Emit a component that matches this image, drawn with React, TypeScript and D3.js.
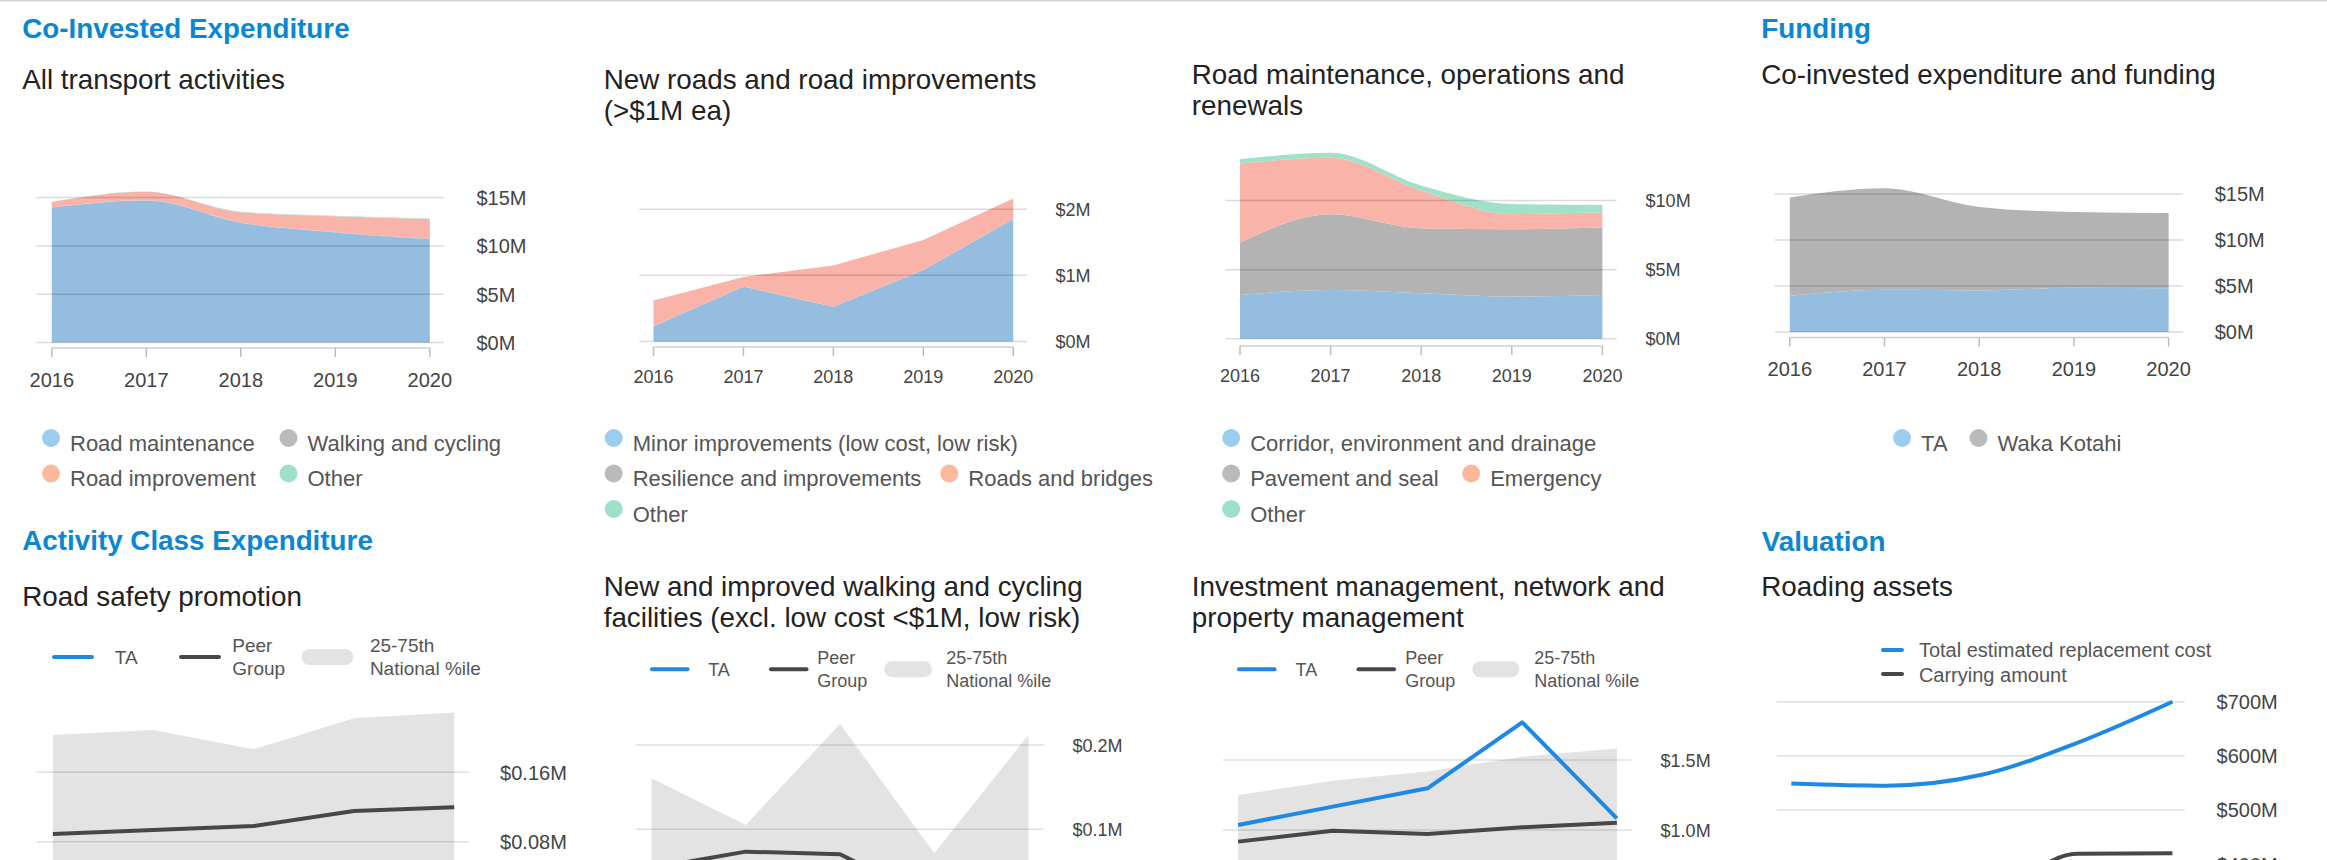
import React from "react";
import * as d3 from "d3";

// ---------- DATA ----------
const years = ["2016", "2017", "2018", "2019", "2020"];

// Co-Invested Expenditure: All transport activities ($M)
const roadMaintenance = [13.98, 14.7, 12.4, 11.4, 10.7];
const walkingCycling = [0.02, 0.02, 0.03, 0.03, 0.03];
const roadImprovement = [0.55, 0.88, 1.05, 1.65, 2.05];
const otherTransport = [0.02, 0.02, 0.05, 0.05, 0.05];

// New roads and road improvements ($M)
const minorImprovements = [0.23, 0.83, 0.525, 1.08, 1.85];
const resilienceImprovements = [0, 0, 0, 0, 0];
const roadsBridges = [0.39, 0.145, 0.625, 0.455, 0.31];
const otherNewRoads = [0, 0, 0, 0, 0];

// Road maintenance, operations and renewals ($M)
const corridorDrainage = [3.17, 3.53, 3.29, 3.05, 3.17];
const pavementSeal = [3.78, 5.49, 4.71, 4.87, 4.88];
const emergencyWorks = [5.73, 4.08, 2.73, 1.1, 1.1];
const otherMaintenance = [0.31, 0.36, 0.36, 0.73, 0.53];

// Funding ($M)
const taFunding = [3.94, 4.6, 4.52, 4.8, 4.75];
const wakaKotahiFunding = [10.69, 11.02, 9.08, 8.25, 8.19];

// Road safety promotion ($M)
const safetyTA = [0.03, 0.04, 0.03, 0.05, 0.04];
const safetyPeer = [0.0888, 0.0935, 0.098, 0.1154, 0.1196];
const safetyBandLow = [0.03, 0.03, 0.03, 0.03, 0.03];
const safetyBandHigh = [0.2031, 0.2088, 0.1865, 0.2223, 0.2288];

// New and improved walking and cycling facilities ($M)
const walkTA = [0, 0, 0, 0, 0];
const walkPeer = [0.054, 0.0735, 0.0704, 0.015, 0.04];
const walkBandLow = [0, 0, 0, 0, 0];
const walkBandHigh = [0.1606, 0.1052, 0.225, 0.0716, 0.212];

// Investment management, network and property management ($M)
const investTA = [1.036, 1.167, 1.298, 1.769, 1.083];
const investPeer = [0.917, 0.995, 0.971, 1.019, 1.052];
const investBandLow = [0.6, 0.62, 0.65, 0.68, 0.7];
const investBandHigh = [1.25, 1.352, 1.417, 1.524, 1.583];

// Roading assets ($M)
const replacementCost = [549, 545, 565, 624, 700];
const carryingAmount = [330, 335, 342, 419, 420];

// Tick values
const ticksTransport = [0, 5, 10, 15];
const ticksNewRoads = [0, 1, 2];
const ticksMaintenance = [0, 5, 10];
const ticksFunding = [0, 5, 10, 15];
const ticksSafety = [0.08, 0.16];
const ticksWalk = [0.1, 0.2];
const ticksInvest = [1.0, 1.5];
const ticksAssets = [400, 500, 600, 700];

// ---------- STYLE ----------
const FONT = "'Liberation Sans', Arial, Helvetica, sans-serif";
const TITLE_BLUE = "#0a87d0";
const SUB = "#222222";
const LEG = "#555555";
const AXIS_TXT = "#444444";
const C = {
  blueA: "#94bde0",
  greyA: "#b3b3b3",
  salmonA: "#f9b3a9",
  tealA: "#a0e1ca",
  blueL: "#9ccdee",
  greyL: "#bababa",
  salmonL: "#fcb89b",
  tealL: "#9edfcb",
  ta: "#1e88e5",
  peer: "#474747",
  band: "#e3e3e3",
};

type Series = { name: string; values: number[]; fill: string };
type Leg = { label: string; color: string; cx: number; row: number };

type AreaCfg = {
  series: Series[];
  x0: number; x1: number;
  yDomain: [number, number]; yRange: [number, number];
  ticks: number[]; fmt: (v: number) => string;
  gx0: number; gx1: number; lx: number;
  axisY: number; yearY: number; font: number;
  curve: any;
  legend: Leg[];
};

const LEG_BASE = [450.5, 486, 521.5];

function AreaPanel({ c }: { c: AreaCfg }) {
  const x = d3.scalePoint<string>().domain(years).range([c.x0, c.x1]);
  const y = d3.scaleLinear().domain(c.yDomain).range(c.yRange);
  const rows = years.map((yr, i) => {
    const r: any = { year: yr };
    c.series.forEach((s) => (r[s.name] = s.values[i]));
    return r;
  });
  const stacked = d3.stack<any>().keys(c.series.map((s) => s.name))(rows);
  const area = d3
    .area<any>()
    .x((d) => x(d.data.year) as number)
    .y0((d) => y(d[0]))
    .y1((d) => y(d[1]))
    .curve(c.curve);
  return (
    <g fontFamily={FONT}>
      {stacked.map((layer, i) => (
        <path key={i} d={area(layer as any) || ""} fill={c.series[i].fill} />
      ))}
      {c.ticks.map((t) => (
        <g key={t}>
          <line x1={c.gx0} x2={c.gx1} y1={y(t)} y2={y(t)} stroke="#000" strokeOpacity={0.14} strokeWidth={1.5} />
          <text x={c.lx} y={y(t) + c.font * 0.37} fontSize={c.font} fill={AXIS_TXT}>
            {c.fmt(t)}
          </text>
        </g>
      ))}
      <line x1={c.x0} x2={c.x1} y1={c.axisY} y2={c.axisY} stroke="#cfcfcf" strokeWidth={1.5} />
      {years.map((yr) => (
        <g key={yr}>
          <line x1={x(yr)} x2={x(yr)} y1={c.axisY} y2={c.axisY + 9} stroke="#bdbdbd" strokeWidth={1.5} />
          <text x={x(yr)} y={c.yearY} fontSize={c.font} fill={AXIS_TXT} textAnchor="middle">
            {yr}
          </text>
        </g>
      ))}
      {c.legend.map((l) => (
        <g key={l.label}>
          <circle cx={l.cx} cy={LEG_BASE[l.row] - 12.5} r={9} fill={l.color} />
          <text x={l.cx + 19} y={LEG_BASE[l.row]} fontSize={22} fill={LEG}>
            {l.label}
          </text>
        </g>
      ))}
    </g>
  );
}

type LineCfg = {
  ta: number[]; peer: number[]; low: number[]; high: number[];
  x0: number; x1: number;
  yDomain: [number, number]; yRange: [number, number];
  ticks: number[]; fmt: (v: number) => string;
  gx0: number; gx1: number; lx: number; font: number;
  leg: { taX: number; peerX: number; pillX: number; lineY: number; taTx: number; peerTx: number; bandTx: number; taTy: number; l1: number; l2: number; font: number; lineLen: number; pillW: number };
};

function BandPanel({ c }: { c: LineCfg }) {
  const x = d3.scalePoint<string>().domain(years).range([c.x0, c.x1]);
  const y = d3.scaleLinear().domain(c.yDomain).range(c.yRange);
  const band = d3
    .area<number>()
    .x((_, i) => x(years[i]) as number)
    .y0((_, i) => y(c.low[i]))
    .y1((d) => y(d));
  const line = d3
    .line<number>()
    .x((_, i) => x(years[i]) as number)
    .y((d) => y(d));
  const L = c.leg;
  return (
    <g fontFamily={FONT}>
      <path d={band(c.high) || ""} fill={C.band} />
      {c.ticks.map((t) => (
        <g key={t}>
          <line x1={c.gx0} x2={c.gx1} y1={y(t)} y2={y(t)} stroke="#000" strokeOpacity={0.12} strokeWidth={1.5} />
          <text x={c.lx} y={y(t) + c.font * 0.37} fontSize={c.font} fill={AXIS_TXT}>
            {c.fmt(t)}
          </text>
        </g>
      ))}
      <path d={line(c.peer) || ""} fill="none" stroke={C.peer} strokeWidth={4} strokeLinejoin="round" />
      <path d={line(c.ta) || ""} fill="none" stroke={C.ta} strokeWidth={4} strokeLinejoin="round" />
      {/* legend */}
      <line x1={L.taX} x2={L.taX + L.lineLen} y1={L.lineY} y2={L.lineY} stroke={C.ta} strokeWidth={4} strokeLinecap="round" />
      <text x={L.taTx} y={L.taTy} fontSize={L.font} fill={LEG}>TA</text>
      <line x1={L.peerX} x2={L.peerX + L.lineLen} y1={L.lineY} y2={L.lineY} stroke={C.peer} strokeWidth={4} strokeLinecap="round" />
      <text x={L.peerTx} y={L.l1} fontSize={L.font} fill={LEG}>Peer</text>
      <text x={L.peerTx} y={L.l2} fontSize={L.font} fill={LEG}>Group</text>
      <rect x={L.pillX} y={L.lineY - 8} width={L.pillW} height={16} rx={8} fill={C.band} />
      <text x={L.bandTx} y={L.l1} fontSize={L.font} fill={LEG}>25-75th</text>
      <text x={L.bandTx} y={L.l2} fontSize={L.font} fill={LEG}>National %ile</text>
    </g>
  );
}

function AssetsPanel() {
  const x = d3.scalePoint<string>().domain(years).range([1791.3, 2172.4]);
  const y = d3.scaleLinear().domain([500, 700]).range([810, 701.7]);
  const line = d3
    .line<number>()
    .x((_, i) => x(years[i]) as number)
    .y((d) => y(d))
    .curve(d3.curveMonotoneX);
  const fmt = (v: number) => `$${v}M`;
  return (
    <g fontFamily={FONT}>
      {ticksAssets.map((t) => (
        <g key={t}>
          <line x1={1776.7} x2={2184.7} y1={y(t)} y2={y(t)} stroke="#000" strokeOpacity={0.12} strokeWidth={1.5} />
          <text x={2216.6} y={y(t) + 20 * 0.37} fontSize={20} fill={AXIS_TXT}>
            {fmt(t)}
          </text>
        </g>
      ))}
      <path d={line(carryingAmount) || ""} fill="none" stroke={C.peer} strokeWidth={4} strokeLinejoin="round" />
      <path d={line(replacementCost) || ""} fill="none" stroke={C.ta} strokeWidth={4} strokeLinejoin="round" />
      <line x1={1883} x2={1902} y1={650} y2={650} stroke={C.ta} strokeWidth={4} strokeLinecap="round" />
      <text x={1918.9} y={656.7} fontSize={20} fill={LEG}>Total estimated replacement cost</text>
      <line x1={1883} x2={1902} y1={674} y2={674} stroke={C.peer} strokeWidth={4} strokeLinecap="round" />
      <text x={1918.9} y={681.5} fontSize={20} fill={LEG}>Carrying amount</text>
    </g>
  );
}

const fmtInt = (v: number) => `$${v}M`;

export default function App() {
  const p1: AreaCfg = {
    series: [
      { name: "Road maintenance", values: roadMaintenance, fill: C.blueA },
      { name: "Walking and cycling", values: walkingCycling, fill: C.greyA },
      { name: "Road improvement", values: roadImprovement, fill: C.salmonA },
      { name: "Other", values: otherTransport, fill: C.tealA },
    ],
    x0: 51.8, x1: 429.8, yDomain: [0, 15], yRange: [342.5, 197.6],
    ticks: ticksTransport, fmt: fmtInt, gx0: 36.3, gx1: 443.9, lx: 476.4,
    axisY: 348, yearY: 387, font: 20, curve: d3.curveMonotoneX,
    legend: [
      { label: "Road maintenance", color: C.blueL, cx: 51, row: 0 },
      { label: "Walking and cycling", color: C.greyL, cx: 288.5, row: 0 },
      { label: "Road improvement", color: C.salmonL, cx: 51, row: 1 },
      { label: "Other", color: C.tealL, cx: 288.5, row: 1 },
    ],
  };
  const p2: AreaCfg = {
    series: [
      { name: "Minor improvements", values: minorImprovements, fill: C.blueA },
      { name: "Resilience", values: resilienceImprovements, fill: C.greyA },
      { name: "Roads and bridges", values: roadsBridges, fill: C.salmonA },
      { name: "Other", values: otherNewRoads, fill: C.tealA },
    ],
    x0: 653.5, x1: 1013.2, yDomain: [0, 2], yRange: [341.5, 209.2],
    ticks: ticksNewRoads, fmt: fmtInt, gx0: 639.3, gx1: 1026.9, lx: 1055.6,
    axisY: 347, yearY: 382.5, font: 18, curve: d3.curveLinear,
    legend: [
      { label: "Minor improvements (low cost, low risk)", color: C.blueL, cx: 613.7, row: 0 },
      { label: "Resilience and improvements", color: C.greyL, cx: 613.7, row: 1 },
      { label: "Roads and bridges", color: C.salmonL, cx: 949.3, row: 1 },
      { label: "Other", color: C.tealL, cx: 613.7, row: 2 },
    ],
  };
  const p3: AreaCfg = {
    series: [
      { name: "Corridor", values: corridorDrainage, fill: C.blueA },
      { name: "Pavement", values: pavementSeal, fill: C.greyA },
      { name: "Emergency", values: emergencyWorks, fill: C.salmonA },
      { name: "Other", values: otherMaintenance, fill: C.tealA },
    ],
    x0: 1240, x1: 1602.4, yDomain: [0, 10], yRange: [338.8, 200.6],
    ticks: ticksMaintenance, fmt: fmtInt, gx0: 1225.5, gx1: 1616.6, lx: 1645.6,
    axisY: 346, yearY: 382, font: 18, curve: d3.curveMonotoneX,
    legend: [
      { label: "Corridor, environment and drainage", color: C.blueL, cx: 1231.2, row: 0 },
      { label: "Pavement and seal", color: C.greyL, cx: 1231.2, row: 1 },
      { label: "Emergency", color: C.salmonL, cx: 1471.2, row: 1 },
      { label: "Other", color: C.tealL, cx: 1231.2, row: 2 },
    ],
  };
  const p4: AreaCfg = {
    series: [
      { name: "TA", values: taFunding, fill: C.blueA },
      { name: "Waka Kotahi", values: wakaKotahiFunding, fill: C.greyA },
    ],
    x0: 1789.8, x1: 2168.6, yDomain: [0, 15], yRange: [332, 194],
    ticks: ticksFunding, fmt: fmtInt, gx0: 1774.8, gx1: 2182.9, lx: 2214.7,
    axisY: 337.5, yearY: 376, font: 20, curve: d3.curveMonotoneX,
    legend: [
      { label: "TA", color: C.blueL, cx: 1902.1, row: 0 },
      { label: "Waka Kotahi", color: C.greyL, cx: 1978.5, row: 0 },
    ],
  };

  const p5: LineCfg = {
    ta: safetyTA, peer: safetyPeer, low: safetyBandLow, high: safetyBandHigh,
    x0: 52.9, x1: 454.2, yDomain: [0.08, 0.16], yRange: [841.7, 772.3],
    ticks: ticksSafety, fmt: (v) => `$${d3.format(".2f")(v)}M`,
    gx0: 36.3, gx1: 469, lx: 500.1, font: 20,
    leg: { taX: 54, peerX: 181, pillX: 301.5, lineY: 657, taTx: 114.7, peerTx: 232.3, bandTx: 369.9, taTy: 664, l1: 651.7, l2: 675, font: 19, lineLen: 38, pillW: 51.8 },
  };
  const p6: LineCfg = {
    ta: walkTA, peer: walkPeer, low: walkBandLow, high: walkBandHigh,
    x0: 651.6, x1: 1028.5, yDomain: [0.1, 0.2], yRange: [829.3, 745],
    ticks: ticksWalk, fmt: (v) => `$${d3.format(".1f")(v)}M`,
    gx0: 635.5, gx1: 1043.8, lx: 1072.5, font: 18,
    leg: { taX: 652, peerX: 771, pillX: 884.2, lineY: 669.3, taTx: 708.2, peerTx: 817.2, bandTx: 946.2, taTy: 676, l1: 664.3, l2: 686.7, font: 18, lineLen: 35.5, pillW: 47.8 },
  };
  const p7: LineCfg = {
    ta: investTA, peer: investPeer, low: investBandLow, high: investBandHigh,
    x0: 1238.1, x1: 1616.9, yDomain: [1.0, 1.5], yRange: [830, 760],
    ticks: ticksInvest, fmt: (v) => `$${d3.format(".1f")(v)}M`,
    gx0: 1222.8, gx1: 1631.9, lx: 1660.6, font: 18,
    leg: { taX: 1239, peerX: 1358.5, pillX: 1472.3, lineY: 669.3, taTx: 1295.5, peerTx: 1405.3, bandTx: 1534.3, taTy: 676, l1: 664.3, l2: 686.7, font: 18, lineLen: 35.5, pillW: 47.1 },
  };

  const titleStyle = { fontFamily: FONT, fontWeight: 700 as const, fontSize: 27.8, fill: TITLE_BLUE };
  const subStyle = { fontFamily: FONT, fontSize: 27.8, fill: SUB };

  return (
    <svg
      width={2327}
      height={860}
      style={{ position: "fixed", left: 0, top: 0, display: "block", background: "#fff" }}
    >
      <rect x={0} y={0} width={2327} height={860} fill="#fff" />
      <line x1={0} x2={2327} y1={0.75} y2={0.75} stroke="#d4d4d4" strokeWidth={1.5} />

      <text x={22.2} y={38} style={titleStyle}>Co-Invested Expenditure</text>
      <text x={1761.3} y={37.5} style={titleStyle}>Funding</text>
      <text x={22.2} y={550} style={titleStyle}>Activity Class Expenditure</text>
      <text x={1761.8} y={550.5} style={titleStyle}>Valuation</text>

      <text x={22.2} y={88.5} style={subStyle}>All transport activities</text>
      <text x={603.7} y={88.5} style={subStyle}>New roads and road improvements</text>
      <text x={603.7} y={120} style={subStyle}>(&gt;$1M ea)</text>
      <text x={1191.8} y={84.2} style={subStyle}>Road maintenance, operations and</text>
      <text x={1191.8} y={114.8} style={subStyle}>renewals</text>
      <text x={1761.3} y={84.2} style={subStyle}>Co-invested expenditure and funding</text>

      <text x={22.2} y={606} style={subStyle}>Road safety promotion</text>
      <text x={603.7} y={596} style={subStyle}>New and improved walking and cycling</text>
      <text x={603.7} y={626.7} style={subStyle}>facilities (excl. low cost &lt;$1M, low risk)</text>
      <text x={1191.8} y={596} style={subStyle}>Investment management, network and</text>
      <text x={1191.8} y={626.7} style={subStyle}>property management</text>
      <text x={1761.3} y={596} style={subStyle}>Roading assets</text>

      <AreaPanel c={p1} />
      <AreaPanel c={p2} />
      <AreaPanel c={p3} />
      <AreaPanel c={p4} />
      <BandPanel c={p5} />
      <BandPanel c={p6} />
      <BandPanel c={p7} />
      <AssetsPanel />
    </svg>
  );
}
